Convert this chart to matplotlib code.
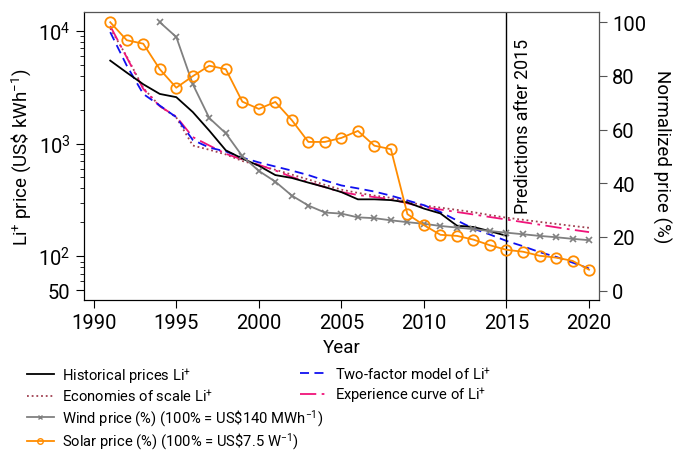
import matplotlib
matplotlib.use("Agg")
import matplotlib.pyplot as plt
from matplotlib.lines import Line2D

plt.rcParams["font.family"] = ["Roboto", "DejaVu Sans"]
plt.rcParams["mathtext.default"] = "regular"
plt.rcParams["font.size"] = 13.5

# Li-ion battery prices (US$ / kWh)
hist_years = list(range(1991, 2016))
historical = [5430, 4250, 3350, 2750, 2575, 1900, 1300, 870, 735, 635,
              525, 495, 450, 411, 371, 320, 320, 315, 300, 265,
              240, 187, 182, 167, 152]

model_years = list(range(1991, 2021))
two_factor = [9700, 4900, 2750, 2170, 1710, 1075, 920, 850, 750, 680,
              625, 575, 525, 470, 425, 400, 375, 345, 313, 284,
              247, 208, 176, 156, 137, 123, 109, 99, 88, 78]
experience = [11000, 5800, 3050, 2140, 1730, 1140, 960, 811, 721, 647,
              577, 505, 455, 410, 371, 350, 335, 320, 295, 273,
              260, 247, 235, 223, 212, 201, 191, 181, 172, 164]
economies = [10500, 5900, 3100, 2150, 1700, 960, 880, 800, 700, 640,
             585, 530, 480, 430, 390, 365, 345, 330, 305, 282,
             270, 258, 246, 232, 220, 211, 202, 194, 186, 179]

# normalized prices (%)
wind_years = list(range(1994, 2021))
wind = [100, 94.5, 76.9, 64.3, 58.6, 50.1, 44.6, 40.6, 35.4, 31.7,
        29.1, 28.7, 27.3, 27.0, 26.2, 25.5, 24.9, 24.1, 23.5, 22.9,
        22.2, 21.6, 21.0, 20.4, 19.9, 19.3, 18.8]
solar_years = list(range(1991, 2021))
solar = [100, 93.3, 92.0, 82.5, 75.6, 79.9, 83.8, 82.5, 70.4, 67.7,
         70.3, 63.5, 55.4, 55.4, 56.9, 59.5, 54.0, 52.7, 28.5, 24.4,
         20.8, 20.4, 19.0, 16.9, 15.2, 14.5, 13.0, 12.3, 11.1, 7.8]

c_orange = "#FF8C00"
c_gray = "#808080"
c_blue = "#1010F0"
c_pink = "#F0147A"
c_brown = "#A04050"

fig = plt.figure(figsize=(6.76, 4.52), dpi=100)
ax = fig.add_axes([0.124, 0.334, 0.762, 0.6366])

ax.plot(model_years, economies, color=c_brown, lw=1.3, linestyle=(0, (1, 1.6)))
ax.plot(model_years, experience, color=c_pink, lw=1.3, linestyle=(0, (9, 3, 1.5, 3)))
ax.plot(model_years, two_factor, color=c_blue, lw=1.3, linestyle=(0, (5, 3)))
ax.plot(hist_years, historical, color="black", lw=1.3)
ax.axvline(2015, color="black", lw=1)

ax.set_yscale("log")
ax.set_xlim(1989.4, 2020.6)
ax.set_ylim(41, 14550)
ax.set_yticks([50, 100, 1000, 10000])
ax.set_yticklabels(["50", "$10^2$", "$10^3$", "$10^4$"])
ax.set_xticks([1990, 1995, 2000, 2005, 2010, 2015, 2020])
ax.tick_params(direction="out", length=6, labelsize=14.5)
ax.tick_params(which="minor", direction="out", length=3)
ax.set_xlabel("Year")
ax.set_ylabel("Li$^{+}$ price (US\\$ kWh$^{-1}$)")
ax.text(2015.45, 0.91, "Predictions after 2015", rotation=90, va="top", ha="left",
        fontsize=12.8, transform=ax.get_xaxis_transform())

ax2 = ax.twinx()
ax2.plot(wind_years, wind, color=c_gray, lw=1.3, marker="x", ms=4, mew=1.2)
ax2.plot(solar_years, solar, color=c_orange, lw=1.3, marker="o", ms=7.5,
         mfc="none", mew=1.3)
ax2.set_ylim(-3.5, 103.7)
ax2.set_yticks([0, 20, 40, 60, 80, 100])
ax2.tick_params(direction="out", length=6, colors="#555555", labelcolor="black",
                labelsize=14.5)
ax2.spines["right"].set_color("#555555")
ax2.spines["top"].set_color("#555555")
ax2.set_ylabel("Normalized price (%)", rotation=270, labelpad=18)

h1 = [Line2D([], [], color="black", lw=1.3),
      Line2D([], [], color=c_brown, lw=1.3, linestyle=(0, (1, 1.6))),
      Line2D([], [], color=c_gray, lw=1.3, marker="x", ms=3),
      Line2D([], [], color=c_orange, lw=1.3, marker="o", ms=4, mfc="none")]
l1 = ["Historical prices Li$^{+}$", "Economies of scale Li$^{+}$",
      "Wind price (%) (100% = US\\$140 MWh$^{-1}$)",
      "Solar price (%) (100% = US\\$7.5 W$^{-1}$)"]
h2 = [Line2D([], [], color=c_blue, lw=1.3, linestyle=(0, (5, 3))),
      Line2D([], [], color=c_pink, lw=1.3, linestyle=(0, (9, 3, 1.5, 3)))]
l2 = ["Two-factor model of Li$^{+}$", "Experience curve of Li$^{+}$"]

leg_kw = dict(loc="upper left", frameon=False, borderpad=0, borderaxespad=0,
              handlelength=1.8, handletextpad=0.55, labelspacing=0.2,
              fontsize=10.6)
fig.legend(h1, l1, bbox_to_anchor=(27 / 676, 1 - 366 / 452), **leg_kw)
fig.legend(h2, l2, bbox_to_anchor=(300 / 676, 1 - 366 / 452), **leg_kw)

fig.savefig("out.png", dpi=100)
